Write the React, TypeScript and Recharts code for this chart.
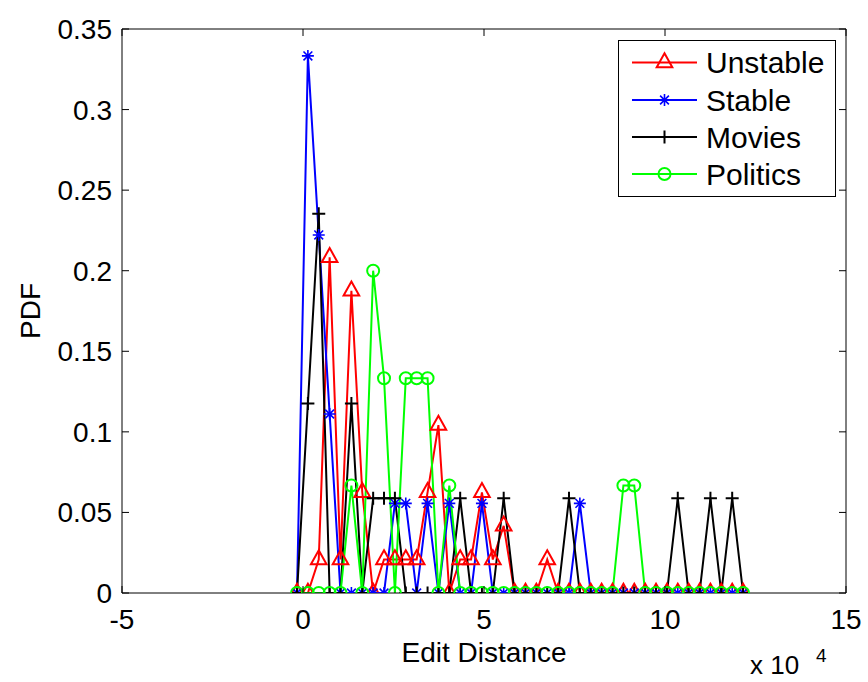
import React from 'react';
import { LineChart, Line, XAxis, YAxis, ReferenceLine } from 'recharts';

// bin positions along x, in units of 10^4
const BIN_X = [
  -0.166, 0.135, 0.435, 0.736, 1.036, 1.337, 1.637, 1.938, 2.238, 2.539,
  2.839, 3.14, 3.441, 3.741, 4.042, 4.342, 4.643, 4.943, 5.244, 5.544,
  5.845, 6.146, 6.446, 6.747, 7.047, 7.348, 7.648, 7.949, 8.249, 8.55,
  8.851, 9.151, 9.452, 9.752, 10.053, 10.353, 10.654, 10.954, 11.255, 11.555,
  11.856, 12.157,
];

const UNSTABLE = [
  0, 0, 0.0208, 0.2083, 0.0208, 0.1875, 0.0625, 0, 0.0208, 0.0208,
  0.0208, 0.0208, 0.0625, 0.1042, 0, 0.0208, 0.0208, 0.0625, 0.0208, 0.0417,
  0, 0, 0, 0.0208, 0, 0, 0, 0, 0, 0,
  0, 0, 0, 0, 0, 0, 0, 0, 0, 0,
  0, 0,
];

const STABLE = [
  0, 0.3333, 0.2222, 0.1111, 0, 0, 0, 0, 0, 0.0556,
  0.0556, 0, 0.0556, 0, 0.0556, 0, 0, 0.0556, 0, 0,
  0, 0, 0, 0, 0, 0, 0.0556, 0, 0, 0,
  0, 0, 0, 0, 0, 0, 0, 0, 0, 0,
  0, 0,
];

const MOVIES = [
  0, 0.1176, 0.2353, 0, 0, 0.1176, 0, 0.0588, 0.0588, 0.0588,
  0, 0, 0, 0, 0, 0.0588, 0, 0, 0, 0.0588,
  0, 0, 0, 0, 0, 0.0588, 0, 0, 0, 0,
  0, 0, 0, 0, 0, 0.0588, 0, 0, 0.0588, 0,
  0.0588, 0,
];

const POLITICS = [
  0, 0, 0, 0, 0, 0.0667, 0, 0.2, 0.1333, 0,
  0.1333, 0.1333, 0.1333, 0, 0.0667, 0, 0, 0, 0, 0,
  0, 0, 0, 0, 0, 0, 0, 0, 0, 0,
  0.0667, 0.0667, 0, 0, 0, 0, 0, 0, 0, 0,
  0, 0,
];

const X_TICKS = [-5, 0, 5, 10, 15];
const X_TICK_LABELS = ['-5', '0', '5', '10', '15'];
const Y_TICKS = [0, 0.05, 0.1, 0.15, 0.2, 0.25, 0.3, 0.35];
const Y_TICK_LABELS = ['0', '0.05', '0.1', '0.15', '0.2', '0.25', '0.3', '0.35'];

const SERIES = [
  { key: 'unstable', name: 'Unstable', color: '#ff0000', marker: 'triangle' },
  { key: 'stable', name: 'Stable', color: '#0000ff', marker: 'star' },
  { key: 'movies', name: 'Movies', color: '#000000', marker: 'plus' },
  { key: 'politics', name: 'Politics', color: '#00ff00', marker: 'circle' },
];

const data = BIN_X.map((x, i) => ({
  x,
  unstable: UNSTABLE[i],
  stable: STABLE[i],
  movies: MOVIES[i],
  politics: POLITICS[i],
}));

const W = 868;
const H = 682;
const LEFT = 122;
const RIGHT = 846;
const TOP = 29;
const BOTTOM = 593;
const TICK = 7;
const FONT = '"Liberation Sans", Arial, Helvetica, sans-serif';

function Marker({ type, cx, cy, color }: { type: string; cx: number; cy: number; color: string }) {
  if (type === 'triangle') {
    return (
      <path
        d={`M${cx},${cy - 9.3} L${cx + 7.8},${cy + 4.7} L${cx - 7.8},${cy + 4.7} Z`}
        fill="none"
        stroke={color}
        strokeWidth={2}
      />
    );
  }
  if (type === 'star') {
    const d = 4.4;
    return (
      <path
        d={`M${cx - 6},${cy} H${cx + 6} M${cx},${cy - 6} V${cy + 6} M${cx - d},${cy - d} L${cx + d},${cy + d} M${cx - d},${cy + d} L${cx + d},${cy - d}`}
        stroke={color}
        strokeWidth={1.6}
      />
    );
  }
  if (type === 'plus') {
    return (
      <path
        d={`M${cx - 6.5},${cy} H${cx + 6.5} M${cx},${cy - 6.5} V${cy + 6.5}`}
        stroke={color}
        strokeWidth={2}
      />
    );
  }
  return <circle cx={cx} cy={cy} r={6} fill="none" stroke={color} strokeWidth={2} />;
}

function makeDot(type: string, color: string) {
  return (props: any) => {
    const { cx, cy, index } = props;
    if (cx == null || cy == null) return <g key={`${type}-${index}`} />;
    return (
      <g key={`${type}-${index}`}>
        <Marker type={type} cx={cx} cy={cy} color={color} />
      </g>
    );
  };
}

function XTick(props: any) {
  const { x, payload } = props;
  const label = X_TICK_LABELS[X_TICKS.indexOf(payload.value)];
  return (
    <g>
      <line x1={x} x2={x} y1={BOTTOM} y2={BOTTOM - TICK} stroke="#000" />
      <line x1={x} x2={x} y1={TOP} y2={TOP + TICK} stroke="#000" />
      <text x={x} y={BOTTOM + 36} textAnchor="middle" fontSize={28} fontFamily={FONT} fill="#000">
        {label}
      </text>
    </g>
  );
}

function YTick(props: any) {
  const { y, payload } = props;
  const label = Y_TICK_LABELS[Y_TICKS.indexOf(payload.value)];
  return (
    <g>
      <line x1={LEFT} x2={LEFT + TICK} y1={y} y2={y} stroke="#000" />
      <line x1={RIGHT} x2={RIGHT - TICK} y1={y} y2={y} stroke="#000" />
      <text x={LEFT - 10} y={y + 10} textAnchor="end" fontSize={28} fontFamily={FONT} fill="#000">
        {label}
      </text>
    </g>
  );
}

function XLabel() {
  return (
    <g fontFamily={FONT} fill="#000">
      <text x={(LEFT + RIGHT) / 2} y={662} textAnchor="middle" fontSize={28}>
        Edit Distance
      </text>
      <text x={750} y={674} fontSize={26}>
        x 10
      </text>
      <text x={816} y={662} fontSize={19}>
        4
      </text>
    </g>
  );
}

function YLabel() {
  return (
    <text
      x={40}
      y={311}
      transform="rotate(-90 40 311)"
      textAnchor="middle"
      fontSize={28}
      fontFamily={FONT}
      fill="#000"
    >
      PDF
    </text>
  );
}

function LegendBox() {
  const left = 618;
  const top = 40;
  const rows = [62.5, 100, 137, 174];
  return (
    <svg
      width={W}
      height={H}
      style={{ position: 'absolute', left: 0, top: 0, pointerEvents: 'none' }}
    >
      <rect x={left + 0.5} y={top + 0.5} width={217} height={156} fill="#fff" stroke="#000" strokeWidth={1} />
      {SERIES.map((s, i) => (
        <g key={s.key}>
          <line x1={632} x2={697} y1={rows[i]} y2={rows[i]} stroke={s.color} strokeWidth={2} />
          <Marker type={s.marker} cx={664.5} cy={rows[i]} color={s.color} />
          <text x={706} y={rows[i] + 10.5} fontSize={30} fontFamily={FONT} fill="#000">
            {s.name}
          </text>
        </g>
      ))}
    </svg>
  );
}

export default function App() {
  return (
    <div style={{ position: 'absolute', left: 0, top: 0, width: W, height: H, background: '#fff', fontFamily: FONT }}>
      <LineChart width={W} height={H} data={data} margin={{ top: TOP, right: W - RIGHT, bottom: 0, left: 0 }}>
        <XAxis
          type="number"
          dataKey="x"
          domain={[-5, 15]}
          ticks={X_TICKS}
          tick={<XTick />}
          tickLine={false}
          tickSize={0}
          tickMargin={0}
          height={H - BOTTOM}
          axisLine={{ stroke: '#000' }}
          label={<XLabel />}
          allowDataOverflow
        />
        <YAxis
          type="number"
          domain={[0, 0.35]}
          ticks={Y_TICKS}
          tick={<YTick />}
          tickLine={false}
          tickSize={0}
          tickMargin={0}
          width={LEFT}
          axisLine={{ stroke: '#000' }}
          label={<YLabel />}
          allowDataOverflow
        />
        <ReferenceLine y={0.35} stroke="#000" />
        <ReferenceLine x={15} stroke="#000" />
        {SERIES.map((s) => (
          <Line
            key={s.key}
            type="linear"
            dataKey={s.key}
            name={s.name}
            stroke={s.color}
            strokeWidth={2}
            dot={makeDot(s.marker, s.color)}
            activeDot={false}
            isAnimationActive={false}
          />
        ))}
      </LineChart>
      <LegendBox />
    </div>
  );
}
